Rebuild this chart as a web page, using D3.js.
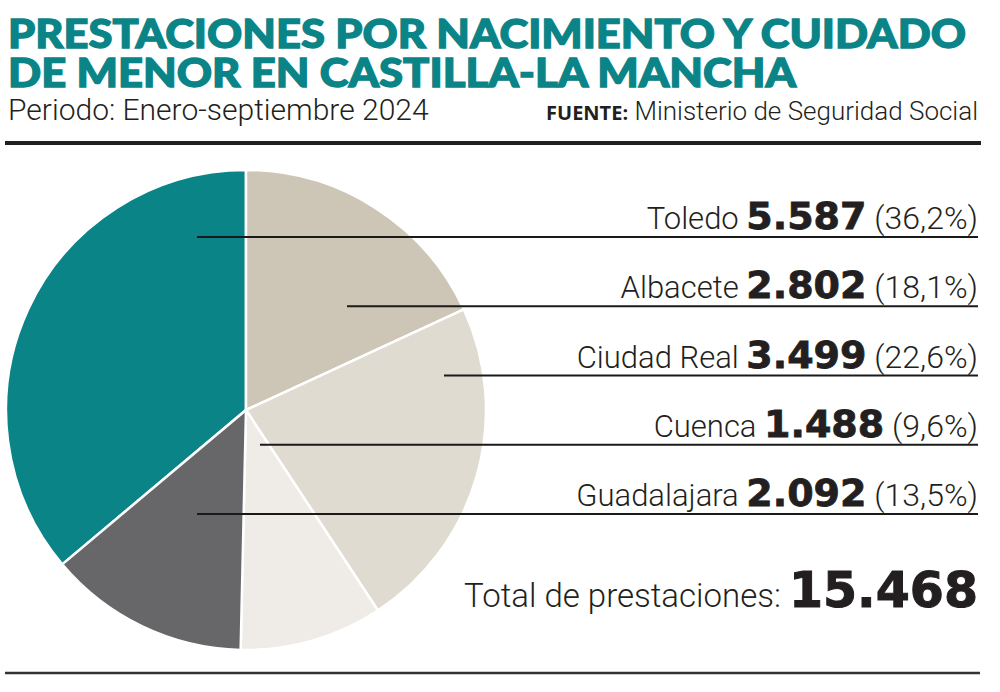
<!DOCTYPE html>
<html>
<head>
<meta charset="utf-8">
<script src="https://cdn.jsdelivr.net/npm/d3@7"></script>
<style>
  html, body { margin: 0; padding: 0; background: #ffffff; }
  svg { display: block; }
</style>
</head>
<body>
<svg id="chart" width="1000" height="692"></svg>
<script>
// ---- data ----
const provinces = ["Toledo", "Albacete", "Ciudad Real", "Cuenca", "Guadalajara"];
const values = [5587, 2802, 3499, 1488, 2092];
const valueLabels = ["5.587", "2.802", "3.499", "1.488", "2.092"];
const pctLabels = ["(36,2%)", "(18,1%)", "(22,6%)", "(9,6%)", "(13,5%)"];
const totalLabel = "15.468";
const titleLines = ["PRESTACIONES POR NACIMIENTO Y CUIDADO", "DE MENOR EN CASTILLA-LA MANCHA"];
const subtitle = "Periodo: Enero-septiembre 2024";
const sourceBold = "FUENTE:";
const sourceText = " Ministerio de Seguridad Social";

// ---- style / layout ----
const colors = ["#0b8487", "#cdc6b7", "#dfdbd0", "#efece7", "#676669"];
const teal = "#0b8487";
const ink = "#231f20";
const cx = 246, cy = 410, R = 240;
const rightX = 978;
const leaderOffsets = [-49, 101, 198, 14, -49];
const lightFont = "Roboto, 'Open Sans', sans-serif";
const boldFont = "'DejaVu Sans', sans-serif";

const svg = d3.select("#chart");

// title
svg.selectAll("text.title").data(titleLines).join("text")
  .attr("class", "title")
  .attr("x", 8)
  .attr("y", (d, i) => 48 + i * 39)
  .attr("fill", teal)
  .attr("stroke", teal)
  .attr("stroke-width", 1.3)
  .attr("font-family", "Lato, 'Open Sans', sans-serif")
  .attr("font-weight", 900)
  .attr("font-size", 40)
  .attr("textLength", (d, i) => i === 0 ? 958 : 788)
  .attr("lengthAdjust", "spacingAndGlyphs")
  .text(d => d);

svg.append("text")
  .attr("x", 8).attr("y", 120)
  .attr("fill", ink)
  .attr("font-family", lightFont)
  .attr("font-weight", 300)
  .attr("font-size", 30)
  .text(subtitle);

const src = svg.append("text")
  .attr("x", rightX).attr("y", 120)
  .attr("text-anchor", "end")
  .attr("fill", ink)
  .attr("font-family", lightFont)
  .attr("font-size", 26);
src.append("tspan").attr("font-weight", 700).attr("font-family", "'Open Sans', sans-serif").attr("font-size", 20).text(sourceBold);
src.append("tspan").attr("font-weight", 300).text(sourceText);

// rules
svg.append("line").attr("x1", 5).attr("x2", 981).attr("y1", 143).attr("y2", 143)
  .attr("stroke", ink).attr("stroke-width", 4);
svg.append("line").attr("x1", 5).attr("x2", 980).attr("y1", 673).attr("y2", 673)
  .attr("stroke", "#333").attr("stroke-width", 2.5);

// pie
const total = d3.sum(values);
const start = -2 * Math.PI * values[0] / total;
const pie = d3.pie().sort(null).value(d => d).startAngle(start).endAngle(start + 2 * Math.PI);
const arc = d3.arc().innerRadius(0).outerRadius(R);
const g = svg.append("g").attr("transform", `translate(${cx},${cy})`);
g.selectAll("path").data(pie(values)).join("path")
  .attr("d", arc)
  .attr("fill", (d, i) => colors[i])
  .attr("stroke", "#ffffff")
  .attr("stroke-width", 2.5)
  .attr("stroke-linejoin", "round");

// rows
const y = d3.scaleLinear().domain([0, provinces.length - 1]).range([237, 514]);

svg.selectAll("line.leader").data(provinces).join("line")
  .attr("class", "leader")
  .attr("x1", (d, i) => cx + leaderOffsets[i])
  .attr("x2", rightX)
  .attr("y1", (d, i) => y(i))
  .attr("y2", (d, i) => y(i))
  .attr("stroke", "#1a1a1a")
  .attr("stroke-width", 1.8);

const labels = svg.selectAll("text.row").data(provinces).join("text")
  .attr("class", "row")
  .attr("x", rightX)
  .attr("y", (d, i) => y(i) - 8)
  .attr("text-anchor", "end")
  .attr("fill", ink);
labels.append("tspan")
  .attr("font-family", lightFont).attr("font-weight", 300).attr("font-size", 31)
  .text(d => d + " ");
labels.append("tspan")
  .attr("font-family", boldFont).attr("font-weight", 700).attr("font-size", 38)
  .attr("stroke", ink).attr("stroke-width", 0.8)
  .text((d, i) => valueLabels[i]);
labels.append("tspan")
  .attr("font-family", lightFont).attr("font-weight", 300).attr("font-size", 32)
  .text((d, i) => " " + pctLabels[i]);

const tot = svg.append("text")
  .attr("x", rightX).attr("y", 607)
  .attr("text-anchor", "end")
  .attr("fill", ink);
tot.append("tspan")
  .attr("font-family", lightFont).attr("font-weight", 300).attr("font-size", 33)
  .text("Total de prestaciones: ");
tot.append("tspan")
  .attr("font-family", boldFont).attr("font-weight", 700).attr("font-size", 49)
  .attr("stroke", ink).attr("stroke-width", 1)
  .text(totalLabel);
</script>
</body>
</html>
